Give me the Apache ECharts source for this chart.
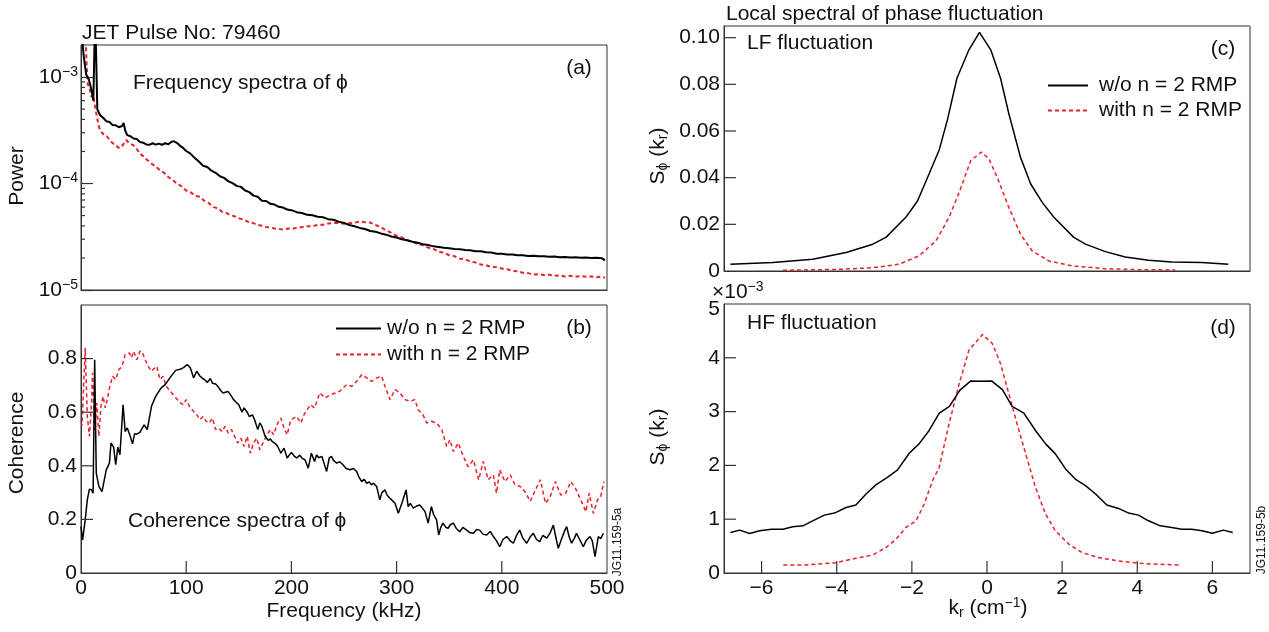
<!DOCTYPE html>
<html><head><meta charset="utf-8">
<script src="https://cdn.jsdelivr.net/npm/echarts@6/dist/echarts.min.js"></script>
<style>html,body{margin:0;padding:0;background:#fff}#c{width:1269px;height:632px}</style>
</head><body><div id="c"></div>
<script>
const nameWo = 'w/o n = 2 RMP';
const nameWith = 'with n = 2 RMP';

// (a) Frequency spectra of phi : [frequency kHz, power]
const powerWo = [[0,3.0e-3],[2.5,1.6e-3],[5,1.05e-3],[7.5,9.5e-4],[10,7.5e-4],[11.7,6.0e-4],[13.5,4e-3],[15.5,5.0e-4],[18,4.4e-4],[21,4.15e-4],[24,3.85e-4],[27,3.78e-4],[30,3.55e-4],[33,3.52e-4],[36,3.38e-4],[39,3.47e-4],[40.5,3.7e-4],[42,3.15e-4],[44,2.85e-4],[47,2.78e-4],[50,2.65e-4],[53,2.62e-4],[56,2.45e-4],[59,2.42e-4],[62,2.33e-4],[65,2.31e-4],[68,2.39e-4],[71,2.32e-4],[74,2.37e-4],[77,2.31e-4],[80,2.39e-4],[83,2.34e-4],[86,2.46e-4],[88,2.5e-4],[91,2.41e-4],[94,2.27e-4],[97,2.16e-4],[100,2.02e-4],[104,1.91e-4],[108,1.74e-4],[112,1.61e-4],[116,1.47e-4],[120,1.43e-4],[124,1.32e-4],[128,1.26e-4],[132,1.17e-4],[136,1.13e-4],[140,1.05e-4],[144,1.01e-4],[148,9.5e-5],[152,9.3e-5],[156,8.6e-5],[160,8.3e-5],[164,7.7e-5],[168,7.5e-5],[172,6.9e-5],[176,6.85e-5],[180,6.45e-5],[184,6.35e-5],[188,6.05e-5],[192,5.95e-5],[196,5.7e-5],[200,5.62e-5],[205,5.38e-5],[210,5.28e-5],[215,5.08e-5],[220,5.03e-5],[225,4.88e-5],[230,4.82e-5],[235,4.63e-5],[240,4.57e-5],[245,4.38e-5],[250,4.27e-5],[255,4.08e-5],[260,3.97e-5],[265,3.83e-5],[270,3.74e-5],[275,3.58e-5],[280,3.52e-5],[285,3.4e-5],[290,3.31e-5],[295,3.18e-5],[300,3.11e-5],[305,2.99e-5],[310,2.93e-5],[315,2.84e-5],[320,2.78e-5],[325,2.69e-5],[330,2.65e-5],[335,2.57e-5],[340,2.54e-5],[345,2.49e-5],[350,2.47e-5],[355,2.43e-5],[360,2.42e-5],[365,2.37e-5],[370,2.36e-5],[375,2.31e-5],[380,2.31e-5],[385,2.26e-5],[390,2.25e-5],[395,2.19e-5],[400,2.19e-5],[405,2.15e-5],[410,2.15e-5],[415,2.12e-5],[420,2.12e-5],[425,2.09e-5],[430,2.1e-5],[435,2.07e-5],[440,2.08e-5],[445,2.05e-5],[450,2.06e-5],[455,2.03e-5],[460,2.04e-5],[465,2.02e-5],[470,2.03e-5],[475,2.01e-5],[480,2.02e-5],[485,2.0e-5],[490,2.01e-5],[495,1.99e-5],[498,1.9e-5]];
const powerWith = [[4,3e-3],[5.5,1.2e-3],[6.5,8.5e-4],[8,8e-4],[10,6.5e-4],[11.5,6.8e-4],[13.3,5.3e-4],[15,4.3e-4],[16.5,3.6e-4],[18,3.2e-4],[20,3.0e-4],[22,2.85e-4],[24.5,2.78e-4],[27,2.58e-4],[29,2.46e-4],[31,2.36e-4],[33,2.31e-4],[35,2.19e-4],[37,2.15e-4],[39,2.26e-4],[41,2.4e-4],[43,2.56e-4],[45,2.44e-4],[47,2.36e-4],[50,2.28e-4],[53,2.11e-4],[56,1.91e-4],[59,1.81e-4],[62,1.69e-4],[65,1.61e-4],[68,1.51e-4],[71,1.45e-4],[75,1.33e-4],[79,1.26e-4],[83,1.15e-4],[87,1.09e-4],[91,1.0e-4],[95,9.5e-5],[100,8.6e-5],[104,8.3e-5],[108,7.7e-5],[113,7.5e-5],[117,6.9e-5],[121,6.6e-5],[126,6.0e-5],[130,5.85e-5],[134,5.45e-5],[138,5.3e-5],[142,5.05e-5],[146,4.92e-5],[151,4.68e-5],[155,4.57e-5],[159,4.36e-5],[164,4.24e-5],[168,4.08e-5],[172,4.02e-5],[176,3.91e-5],[180,3.87e-5],[185,3.76e-5],[189,3.73e-5],[193,3.7e-5],[197,3.78e-5],[202,3.77e-5],[206,3.87e-5],[210,3.88e-5],[215,3.96e-5],[220,3.98e-5],[225,4.09e-5],[230,4.1e-5],[235,4.22e-5],[240,4.26e-5],[245,4.27e-5],[250,4.2e-5],[255,4.24e-5],[260,4.28e-5],[265,4.4e-5],[270,4.33e-5],[275,4.3e-5],[280,4.08e-5],[285,3.9e-5],[290,3.63e-5],[295,3.44e-5],[300,3.23e-5],[305,3.12e-5],[310,2.93e-5],[315,2.85e-5],[320,2.7e-5],[325,2.64e-5],[330,2.5e-5],[335,2.43e-5],[340,2.28e-5],[345,2.24e-5],[350,2.12e-5],[355,2.08e-5],[360,1.97e-5],[365,1.94e-5],[370,1.86e-5],[375,1.81e-5],[380,1.74e-5],[385,1.71e-5],[390,1.65e-5],[395,1.64e-5],[400,1.59e-5],[405,1.57e-5],[410,1.51e-5],[415,1.5e-5],[420,1.45e-5],[425,1.44e-5],[430,1.4e-5],[435,1.41e-5],[440,1.38e-5],[445,1.39e-5],[450,1.36e-5],[455,1.37e-5],[460,1.34e-5],[465,1.36e-5],[470,1.33e-5],[475,1.35e-5],[480,1.33e-5],[485,1.34e-5],[490,1.32e-5],[495,1.34e-5],[498,1.3e-5]];

// (b) Coherence spectra of phi : [frequency kHz, coherence]
const cohWo = [[0,0.173],[1.5,0.123],[4,0.198],[6,0.273],[8,0.313],[10,0.31],[11.5,0.298],[13,0.796],[14.5,0.373],[17,0.323],[20,0.304],[24,0.385],[27,0.41],[28.5,0.485],[31,0.47],[33,0.404],[35,0.47],[37,0.441],[40,0.628],[42,0.528],[44,0.541],[46,0.52],[49,0.482],[51,0.52],[53,0.518],[56,0.525],[60,0.553],[63,0.535],[67,0.622],[71,0.659],[76,0.69],[80,0.703],[85,0.731],[90,0.756],[95,0.761],[98,0.768],[101,0.778],[104,0.765],[107,0.728],[110,0.753],[113,0.735],[115,0.728],[118,0.72],[120,0.711],[123,0.726],[125,0.708],[128,0.705],[130,0.697],[133,0.68],[135,0.672],[138,0.675],[140,0.677],[143,0.66],[145,0.647],[148,0.635],[150,0.628],[153,0.6],[155,0.616],[158,0.6],[160,0.584],[163,0.59],[165,0.572],[168,0.535],[170,0.56],[172,0.547],[175,0.51],[178,0.495],[180,0.5],[182,0.49],[185,0.482],[187,0.472],[190,0.447],[193,0.466],[196,0.429],[198,0.44],[200,0.45],[203,0.435],[205,0.429],[208,0.44],[210,0.429],[213,0.422],[216,0.391],[219,0.447],[222,0.416],[224,0.441],[226,0.43],[229,0.435],[231,0.41],[233.5,0.379],[236,0.43],[238,0.435],[240,0.42],[243,0.41],[246,0.415],[249,0.404],[252,0.39],[255.7,0.385],[259,0.39],[262,0.379],[264,0.36],[266.8,0.341],[269,0.35],[271.6,0.335],[274,0.34],[276,0.329],[278,0.335],[281,0.323],[284,0.273],[286,0.3],[289,0.31],[291,0.29],[293.7,0.279],[296,0.27],[298.5,0.26],[301.6,0.223],[305,0.26],[309,0.31],[311,0.248],[313,0.26],[316,0.242],[319,0.25],[322,0.254],[325,0.24],[327,0.229],[330,0.186],[333,0.248],[335,0.22],[338,0.198],[340,0.142],[342,0.17],[344,0.186],[347,0.17],[349,0.167],[351,0.18],[354,0.186],[357,0.165],[360,0.154],[363,0.17],[366.6,0.16],[370,0.15],[373,0.148],[376,0.162],[379,0.16],[382,0.145],[385.6,0.142],[389,0.155],[392,0.136],[395,0.12],[398,0.098],[401,0.125],[404.7,0.136],[408,0.12],[411,0.111],[414,0.14],[417,0.16],[420,0.13],[423.7,0.111],[427,0.135],[430,0.148],[433,0.125],[436,0.117],[439,0.14],[442.7,0.13],[446,0.15],[449,0.179],[451,0.14],[453.7,0.092],[457,0.13],[460,0.16],[461.7,0.173],[464,0.135],[466.4,0.111],[469,0.13],[471,0.148],[474,0.125],[477.5,0.098],[480,0.12],[483.8,0.136],[486,0.12],[488.6,0.061],[491.7,0.136],[494,0.128],[496.5,0.148]];
const cohWith = [[0,0.56],[1,0.55],[2,0.647],[4,0.84],[6,0.584],[8,0.51],[10,0.634],[11,0.747],[13,0.535],[15,0.634],[17,0.51],[19,0.622],[21,0.659],[23,0.616],[25,0.647],[27,0.69],[30,0.734],[33,0.722],[36,0.759],[39,0.771],[42,0.815],[46,0.821],[48,0.803],[50,0.827],[53,0.796],[56,0.827],[58,0.827],[61,0.796],[64,0.771],[67,0.753],[70,0.765],[72,0.771],[75,0.722],[78,0.734],[81,0.697],[85,0.678],[89,0.659],[93,0.64],[97,0.628],[100,0.647],[103,0.622],[107,0.603],[110,0.591],[113,0.572],[116,0.584],[119,0.566],[122,0.56],[125,0.578],[128,0.535],[131,0.541],[134,0.528],[137,0.547],[140,0.522],[143,0.535],[146,0.51],[149,0.485],[152,0.503],[155,0.472],[158,0.51],[161,0.447],[164,0.485],[167,0.503],[170,0.46],[173,0.485],[176,0.51],[180,0.535],[183,0.516],[187,0.56],[190,0.578],[193,0.541],[196,0.516],[199,0.566],[202,0.578],[205,0.584],[209,0.56],[212,0.591],[215,0.609],[218,0.628],[222,0.616],[227,0.672],[232,0.653],[237,0.665],[242,0.672],[246,0.678],[249,0.69],[252.6,0.703],[257.4,0.697],[262,0.715],[266.8,0.74],[271.6,0.728],[276,0.715],[281,0.728],[285.8,0.734],[289,0.697],[293.7,0.647],[298.5,0.684],[303.2,0.672],[308,0.647],[312.6,0.641],[317.4,0.647],[320.5,0.609],[325,0.591],[328.6,0.56],[333,0.566],[338,0.56],[343,0.535],[347.6,0.472],[350.7,0.497],[354,0.453],[358.6,0.485],[363.4,0.435],[368,0.397],[373,0.422],[378,0.348],[382.4,0.416],[387,0.348],[392,0.366],[395,0.298],[398,0.385],[403,0.341],[408,0.366],[412.6,0.329],[417.4,0.323],[422,0.304],[427,0.267],[432,0.31],[436.7,0.348],[441.5,0.26],[446,0.285],[451,0.341],[456,0.291],[460.8,0.298],[465.6,0.341],[470,0.316],[475,0.273],[480,0.229],[483,0.298],[487,0.223],[491,0.273],[494,0.285],[497,0.341]];

// (c) LF fluctuation : [k_r cm^-1, S_phi]
const lfWo = [[-6.83,0.0029],[-5.7,0.0036],[-4.64,0.005],[-3.75,0.0079],[-3.04,0.0115],[-2.69,0.0144],[-2.16,0.023],[-1.85,0.030],[-1.54,0.0417],[-1.27,0.052],[-1.05,0.065],[-0.8,0.0826],[-0.48,0.0948],[-0.2,0.1023],[0.1,0.0948],[0.36,0.0826],[0.58,0.0675],[0.89,0.0488],[1.16,0.0374],[1.47,0.0294],[1.78,0.023],[2.31,0.0144],[2.62,0.0115],[3.15,0.0083],[3.68,0.006],[4.3,0.0046],[4.92,0.0039],[5.72,0.0036],[6.42,0.0029]];
const lfWith = [[-5.43,0.0003],[-3.93,0.0007],[-3.04,0.0014],[-2.34,0.0029],[-1.81,0.0065],[-1.36,0.0129],[-1.01,0.023],[-0.74,0.0337],[-0.43,0.0474],[-0.15,0.051],[0.05,0.0481],[0.27,0.0402],[0.58,0.0273],[0.89,0.0158],[1.2,0.0086],[1.65,0.0043],[2.26,0.0022],[3.15,0.001],[4.03,0.0006],[5.01,0.0004]];

// (d) HF fluctuation : [k_r cm^-1, S_phi x 1e-3]
const hfWo = [[-6.83,0.752],[-6.58,0.797],[-6.32,0.733],[-6.05,0.784],[-5.74,0.815],[-5.43,0.815],[-5.17,0.858],[-4.9,0.877],[-4.64,0.97],[-4.33,1.076],[-4.06,1.114],[-3.75,1.218],[-3.49,1.263],[-3.22,1.468],[-2.95,1.642],[-2.65,1.778],[-2.38,1.916],[-2.07,2.226],[-1.81,2.40],[-1.54,2.649],[-1.27,2.972],[-1.0,3.097],[-0.72,3.40],[-0.43,3.57],[-0.17,3.565],[0.12,3.57],[0.41,3.408],[0.67,3.097],[0.98,2.972],[1.29,2.649],[1.56,2.40],[1.82,2.214],[2.09,1.934],[2.35,1.747],[2.62,1.623],[2.89,1.468],[3.19,1.263],[3.5,1.2],[3.77,1.114],[4.03,1.076],[4.3,0.97],[4.61,0.877],[4.92,0.845],[5.18,0.815],[5.45,0.815],[5.72,0.784],[6.0,0.74],[6.29,0.797],[6.54,0.752]];
const hfWith = [[-5.42,0.149],[-4.81,0.149],[-4.02,0.192],[-3.49,0.274],[-3.04,0.336],[-2.69,0.472],[-2.42,0.629],[-2.16,0.845],[-1.89,0.97],[-1.67,1.282],[-1.45,1.716],[-1.27,1.965],[-1.01,2.774],[-0.74,3.52],[-0.48,4.142],[-0.12,4.434],[0.14,4.267],[0.36,3.894],[0.58,3.334],[0.8,2.774],[1.03,2.214],[1.29,1.591],[1.56,1.095],[1.82,0.784],[2.18,0.535],[2.53,0.379],[2.97,0.286],[3.5,0.224],[4.03,0.181],[4.57,0.162],[5.18,0.149]];

// tick positions
const powerMinorTicks = [2e-5,3e-5,4e-5,5e-5,6e-5,7e-5,8e-5,9e-5,2e-4,3e-4,4e-4,5e-4,6e-4,7e-4,8e-4,9e-4];
const freqTicks = [100, 200, 300, 400];
const cohTicks = [0.2, 0.4, 0.6, 0.8];
const lfTicks = [0.02, 0.04, 0.06, 0.08, 0.1];
const hfTicks = [1, 2, 3, 4];
const krTicks = [-6, -4, -2, 0, 2, 4, 6];

const FONT = '"Liberation Sans", Arial, sans-serif';
const AX = '#333';
const RED = '#e8202a';
const FS = 21;

const chart = echarts.init(document.getElementById('c'), null, {renderer: 'canvas'});

function baseAxis(extra) {
  const o = Object.assign({
    axisTick: {show: false},
    splitLine: {show: false},
    axisLabel: {show: true, color: '#111', fontFamily: FONT, fontSize: FS}
  }, extra);
  o.axisLine = {show: true, onZero: false, lineStyle: {color: AX, width: 1}};
  return o;
}
const minusFmt = v => (v < 0 ? '\u2212' + Math.abs(v) : String(v));

const gridStyle = {show: true, borderColor: AX, borderWidth: 1, backgroundColor: 'transparent'};

const lineWo = (x, y, data, w) => ({type: 'line', name: nameWo, xAxisIndex: x, yAxisIndex: y, data: data, symbol: 'none', showSymbol: false, smooth: false, lineStyle: {color: '#000', width: w || 1.5}, itemStyle: {color: '#000'}, z: 3});
const lineWith = (x, y, data, w) => ({type: 'line', name: nameWith, xAxisIndex: x, yAxisIndex: y, data: data, symbol: 'none', showSymbol: false, smooth: false, lineStyle: {color: RED, width: w || 1.5, type: [4, 3]}, itemStyle: {color: RED}, z: 2});

// inward tick marks drawn through the axes' own scales
function tickSeries(xi, yi, dir, anchor, values, len) {
  return {
    type: 'custom', name: 'ticks' + xi + dir, xAxisIndex: xi, yAxisIndex: yi, silent: true, z: 5,
    data: values.map(v => (dir === 'y' ? [anchor, v] : [v, anchor])),
    renderItem: (params, api) => {
      const p = api.coord([api.value(0), api.value(1)]);
      const shape = dir === 'y'
        ? {x1: p[0], y1: p[1], x2: p[0] + len, y2: p[1]}
        : {x1: p[0], y1: p[1], x2: p[0], y2: p[1] - len};
      return {type: 'line', shape: shape, style: {stroke: AX, lineWidth: 1.2}};
    }
  };
}

const rich = {
  n: {fontFamily: FONT, fontSize: FS, color: '#111', lineHeight: 24},
  sup: {fontFamily: FONT, fontSize: 14, color: '#111', lineHeight: 14, verticalAlign: 'top'},
  sub: {fontFamily: FONT, fontSize: 14, color: '#111', lineHeight: 14, verticalAlign: 'bottom'},
  five: {fontFamily: FONT, fontSize: FS, color: '#111', padding: [10, 0, 0, 0]}
};

function txt(x, y, text, opts) {
  opts = opts || {};
  return {
    type: 'text', x: x, y: y, rotation: opts.rot || 0, z: 10,
    style: Object.assign({text: text, fill: '#111', font: (opts.size || FS) + 'px ' + FONT,
      align: opts.align || 'left', verticalAlign: 'middle', rich: rich}, opts.style || {})
  };
}

const legendBase = {selectedMode: false, orient: 'vertical', itemHeight: 14,
  itemStyle: {opacity: 0, borderWidth: 0},
  data: [nameWo, nameWith]};

const option = {
  animation: false,
  backgroundColor: '#fff',
  grid: [
    Object.assign({left: 81, top: 45, width: 526, height: 245}, gridStyle),
    Object.assign({left: 81, top: 305, width: 526, height: 268}, gridStyle),
    Object.assign({left: 724, top: 26, width: 526, height: 245}, gridStyle),
    Object.assign({left: 724, top: 304, width: 526, height: 269}, gridStyle)
  ],
  xAxis: [
    baseAxis({type: 'value', gridIndex: 0, min: 0, max: 500, axisLabel: {show: false}}),
    baseAxis({type: 'value', gridIndex: 1, min: 0, max: 500, interval: 100,
      axisLabel: {show: true, color: '#111', fontFamily: FONT, fontSize: FS, margin: 5}}),
    baseAxis({type: 'value', gridIndex: 2, min: -7, max: 7, axisLabel: {show: false}}),
    baseAxis({type: 'value', gridIndex: 3, min: -7, max: 7, splitNumber: 7,
      axisLabel: {show: true, color: '#111', fontFamily: FONT, fontSize: FS, margin: 5,
        showMinLabel: false, showMaxLabel: false, formatter: minusFmt}})
  ],
  yAxis: [
    baseAxis({type: 'log', logBase: 10, gridIndex: 0, min: 1e-5, max: 2e-3, interval: 1,
      axisTick: {show: true, inside: true, length: 12, lineStyle: {color: AX, width: 1.2}},
      axisLabel: {show: true, margin: 3, showMaxLabel: false,
        formatter: v => '{n|10}{sup|\u2212' + Math.abs(Math.round(Math.log10(v))) + '}', rich: rich}}),
    baseAxis({type: 'value', gridIndex: 1, min: 0, max: 1, interval: 0.2,
      axisLabel: {show: true, color: '#111', fontFamily: FONT, fontSize: FS, margin: 4, showMaxLabel: false,
        formatter: v => (v === 0 ? '0' : v.toFixed(1))}}),
    baseAxis({type: 'value', gridIndex: 2, min: 0, max: 0.105, interval: 0.02,
      axisLabel: {show: true, color: '#111', fontFamily: FONT, fontSize: FS, margin: 4, showMaxLabel: false,
        formatter: v => (v === 0 ? '0' : v.toFixed(2))}}),
    baseAxis({type: 'value', gridIndex: 3, min: 0, max: 5, interval: 1,
      axisLabel: {show: true, color: '#111', fontFamily: FONT, fontSize: FS, margin: 4, rich: rich,
        formatter: v => (v === 5 ? '{five|5}' : String(v))}})
  ],
  legend: [
    Object.assign({left: 330, top: 313, itemWidth: 45, itemGap: 5,
      textStyle: {fontFamily: FONT, fontSize: FS, color: '#111', lineHeight: 21, padding: [0, 0, 0, 1]}}, legendBase),
    Object.assign({left: 1042, top: 70, itemWidth: 40, itemGap: 4,
      textStyle: {fontFamily: FONT, fontSize: FS, color: '#111', lineHeight: 21, padding: [0, 0, 0, 6]}}, legendBase)
  ],
  series: [
    lineWo(0, 0, powerWo, 2), lineWith(0, 0, powerWith, 2),
    lineWo(1, 1, cohWo), lineWith(1, 1, cohWith),
    lineWo(2, 2, lfWo), lineWith(2, 2, lfWith),
    lineWo(3, 3, hfWo), lineWith(3, 3, hfWith),
    tickSeries(0, 0, 'y', 0, powerMinorTicks, 4),
    tickSeries(1, 1, 'x', 0, freqTicks, 12),
    tickSeries(1, 1, 'y', 0, cohTicks, 12),
    tickSeries(2, 2, 'y', -7, lfTicks, 12),
    tickSeries(3, 3, 'y', -7, hfTicks, 12),
    tickSeries(3, 3, 'x', 0, krTicks, 12)
  ],
  graphic: [
    txt(82, 33, 'JET Pulse No: 79460'),
    txt(133, 83, 'Frequency spectra of \u03d5'),
    txt(579, 68, '(a)', {align: 'center'}),
    txt(17, 176, 'Power', {rot: Math.PI / 2, align: 'center'}),
    txt(579, 328, '(b)', {align: 'center'}),
    txt(128, 521, 'Coherence spectra of \u03d5'),
    txt(17, 443, 'Coherence', {rot: Math.PI / 2, align: 'center'}),
    txt(344, 611, 'Frequency (kHz)', {align: 'center'}),
    txt(618, 542, 'JG11.159-5a', {rot: Math.PI / 2, align: 'center', size: 12}),
    txt(726, 14, 'Local spectral of phase fluctuation'),
    txt(747, 43, 'LF fluctuation'),
    txt(1223, 49, '(c)', {align: 'center'}),
    txt(658, 156, '{n|S}{sub|\u03d5}{n| (k}{sub|r}{n|)}', {rot: Math.PI / 2, align: 'center'}),
    txt(712, 292, '{n|\u00d710}{sup|\u22123}'),
    txt(747, 323, 'HF fluctuation'),
    txt(1223, 328, '(d)', {align: 'center'}),
    txt(658, 437, '{n|S}{sub|\u03d5}{n| (k}{sub|r}{n|)}', {rot: Math.PI / 2, align: 'center'}),
    txt(988, 608, '{n|k}{sub|r}{n| (cm}{sup|\u22121}{n|)}', {align: 'center'}),
    txt(1262, 540, 'JG11.159-5b', {rot: Math.PI / 2, align: 'center', size: 12})
  ]
};
chart.setOption(option);
</script>
</body></html>
